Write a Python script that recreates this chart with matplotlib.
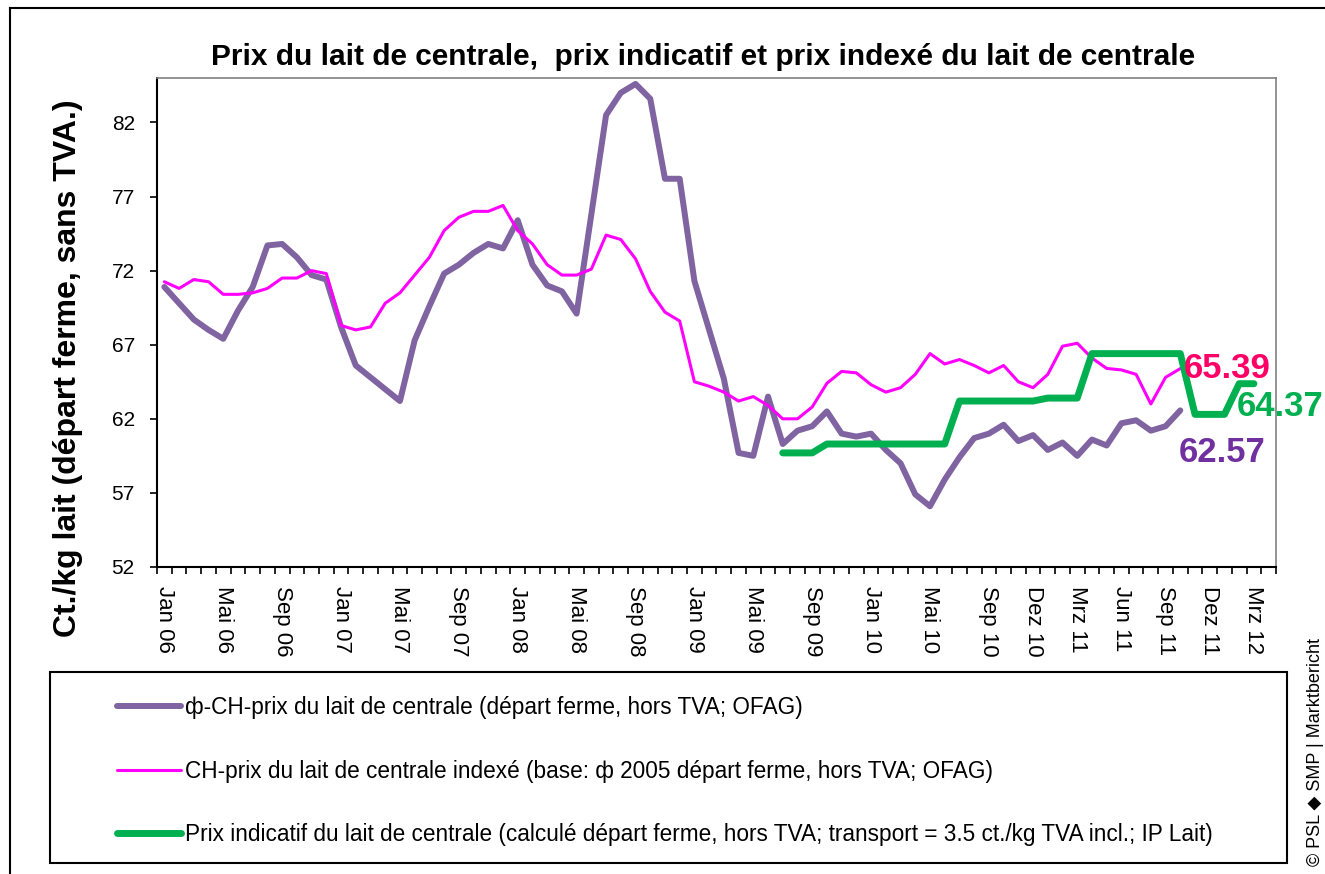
import matplotlib
matplotlib.use("Agg")
import matplotlib.pyplot as plt
from matplotlib.patches import Rectangle
from matplotlib.lines import Line2D

plt.rcParams['font.family'] = ['Liberation Sans', 'DejaVu Sans']

# month index 0 = Jan 06
tick_pos = [0, 4, 8, 12, 16, 20, 24, 28, 32, 36, 40, 44, 48, 52, 56, 59, 62, 65, 68, 71, 74]
tick_labels = ['Jan 06', 'Mai 06', 'Sep 06', 'Jan 07', 'Mai 07', 'Sep 07', 'Jan 08',
               'Mai 08', 'Sep 08', 'Jan 09', 'Mai 09', 'Sep 09', 'Jan 10', 'Mai 10',
               'Sep 10', 'Dez 10', 'Mrz 11', 'Jun 11', 'Sep 11', 'Dez 11', 'Mrz 12']

prix_centrale = [70.9, 69.8, 68.7, 68.0, 67.4, 69.3, 70.9, 73.7, 73.8, 72.9, 71.7, 71.4,
                 68.2, 65.6, 64.8, 64.0, 63.2, 67.3, 69.6, 71.8, 72.4, 73.2, 73.8, 73.5,
                 75.4, 72.4, 71.0, 70.6, 69.1, 75.8, 82.5, 84.0, 84.6, 83.6, 78.2, 78.2,
                 71.3, 68.0, 64.7, 59.7, 59.5, 63.5, 60.3, 61.2, 61.5, 62.5, 61.0, 60.8,
                 61.0, 59.9, 59.0, 56.9, 56.1, 57.9, 59.4, 60.7, 61.0, 61.6, 60.5, 60.9,
                 59.9, 60.4, 59.5, 60.6, 60.2, 61.7, 61.9, 61.2, 61.5, 62.57]

prix_indexe = [71.25, 70.8, 71.4, 71.25, 70.4, 70.4, 70.5, 70.8, 71.5, 71.5, 72.0, 71.8,
               68.3, 68.0, 68.2, 69.8, 70.5, 71.7, 72.9, 74.7, 75.6, 76.0, 76.0, 76.4,
               74.7, 73.8, 72.4, 71.7, 71.7, 72.1, 74.4, 74.1, 72.8, 70.6, 69.2, 68.6,
               64.5, 64.2, 63.8, 63.2, 63.5, 62.9, 62.0, 62.0, 62.8, 64.4, 65.2, 65.1,
               64.3, 63.8, 64.1, 65.0, 66.4, 65.7, 66.0, 65.6, 65.1, 65.6, 64.5, 64.1,
               65.0, 66.9, 67.1, 66.1, 65.4, 65.3, 65.0, 63.0, 64.8, 65.39]

indicatif_start = 42
prix_indicatif = [59.7, 59.7, 59.7, 60.3, 60.3, 60.3, 60.3, 60.3, 60.3, 60.3, 60.3, 60.3,
                  63.2, 63.2, 63.2, 63.2, 63.2, 63.2, 63.4, 63.4, 63.4, 66.4, 66.4, 66.4,
                  66.4, 66.4, 66.4, 66.4, 62.3, 62.3, 62.3, 64.37, 64.37]

labels = ['ф-CH-prix du lait de centrale (départ ferme, hors TVA; OFAG)',
          'CH-prix du lait de centrale indexé (base: ф 2005 départ ferme, hors TVA; OFAG)',
          'Prix indicatif du lait de centrale (calculé départ ferme, hors TVA; transport = 3.5 ct./kg TVA incl.; IP Lait)']

c_purple = '#8064A2'
c_magenta = '#FF00FF'
c_green = '#00B050'

W, H = 1325, 874
fig = plt.figure(figsize=(W / 100, H / 100), dpi=100)
ax = fig.add_axes([157 / W, 1 - 567 / H, (1276 - 157) / W, (567 - 78) / H])

x1 = list(range(len(prix_centrale)))
x2 = list(range(len(prix_indexe)))
x3 = list(range(indicatif_start, indicatif_start + len(prix_indicatif)))

l1, = ax.plot(x1, prix_centrale, color=c_purple, lw=4.3, solid_joinstyle='round', solid_capstyle='round')
l2, = ax.plot(x2, prix_indexe, color=c_magenta, lw=2.2, solid_joinstyle='round', solid_capstyle='round')
l3, = ax.plot(x3, prix_indicatif, color=c_green, lw=5.0, solid_joinstyle='round', solid_capstyle='round')

ax.set_xlim(-0.5, 75.5)
ax.set_ylim(52, 85)
ax.set_yticks([52, 57, 62, 67, 72, 77, 82])
ax.tick_params(axis='y', labelsize=15, length=5, width=1.2, direction='out', pad=11)
ax.set_xticks(tick_pos)
ax.set_xticklabels(tick_labels, rotation=270, fontsize=16)
ax.set_xticks([i - 0.5 for i in range(77)], minor=True)
ax.tick_params(axis='x', which='major', length=0, pad=14)
ax.tick_params(axis='x', which='minor', length=5, width=1.2, direction='out')

for s in ['top', 'right']:
    ax.spines[s].set_color('#808080')
    ax.spines[s].set_linewidth(1.2)
for s in ['left', 'bottom']:
    ax.spines[s].set_color('black')
    ax.spines[s].set_linewidth(1.5)

fig.text(68 / W, 1 - 368 / H, 'Ct./kg lait (départ ferme, sans TVA.)', rotation=90,
         ha='center', va='center', fontsize=23, fontweight='bold')

fig.text(703 / W, 1 - 57 / H, 'Prix du lait de centrale,  prix indicatif et prix indexé du lait de centrale',
         ha='center', va='center', fontsize=21.5, fontweight='bold')

# end value labels
ax.annotate(f'{prix_indexe[-1]:.2f}', (x2[-1], prix_indexe[-1]), xytext=(3, 0),
            textcoords='offset pixels', ha='left', va='center', fontsize=25,
            fontweight='bold', color='#FF0066')
ax.annotate(f'{prix_indicatif[-1]:.2f}', (x3[-1], prix_indicatif[-1]), xytext=(-17, -23),
            textcoords='offset pixels', ha='left', va='center', fontsize=25,
            fontweight='bold', color=c_green, annotation_clip=False)
ax.annotate(f'{prix_centrale[-1]:.2f}', (x1[-1], prix_centrale[-1]), xytext=(-2, -42),
            textcoords='offset pixels', ha='left', va='center', fontsize=25,
            fontweight='bold', color='#7030A0')

# legend box
fig.patches.append(Rectangle((50 / W, 1 - 863 / H), 1237 / W, 191 / H, transform=fig.transFigure,
                             fill=False, ec='black', lw=1.5))
fig.legend([l1, l2, l3], labels, loc='upper left', bbox_to_anchor=(106 / W, 1 - 685 / H),
           frameon=False, borderpad=0, handlelength=2.8, handletextpad=0.18, labelspacing=1.78,
           prop={'size': 16.3})

# outer frame
fig.add_artist(Line2D([10 / W, 1], [1 - 8 / H, 1 - 8 / H], transform=fig.transFigure, color='black', lw=1.5))
fig.add_artist(Line2D([10 / W, 10 / W], [0, 1 - 8 / H], transform=fig.transFigure, color='black', lw=1.5))

fig.text(1316 / W, 1 - 752 / H, '© PSL ◆ SMP | Marktbericht', rotation=90, ha='center', va='center',
         fontsize=13, family=['Liberation Sans', 'DejaVu Sans'])

fig.savefig('out.png', dpi=100)
